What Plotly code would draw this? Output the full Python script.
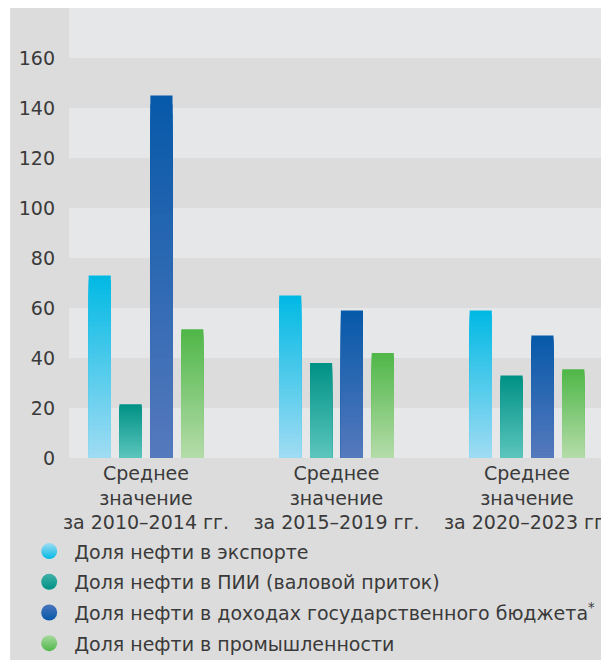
import plotly.graph_objects as go

# ---- data ----
categories = [
    "Среднее<br>значение<br>за 2010–2014 гг.",
    "Среднее<br>значение<br>за 2015–2019 гг.",
    "Среднее<br>значение<br>за 2020–2023 гг.",
]
series_names = [
    "Доля нефти в экспорте",
    "Доля нефти в ПИИ (валовой приток)",
    "Доля нефти в доходах государственного бюджета<sup>*</sup>",
    "Доля нефти в промышленности",
]
export_share = [73, 65, 59]
fdi_share = [21.5, 38, 33]
budget_share = [145, 59, 49]
industry_share = [51.5, 42, 35.5]
y_ticks = [0, 20, 40, 60, 80, 100, 120, 140, 160]

# ---- styles ----
top_colors = ["#00b9e4", "#009185", "#0659a9", "#4fb748"]
bottom_colors = ["#a0dcf3", "#5cc6bd", "#5679bd", "#b5dcaa"]
legend_light = ["#9edcf3", "#3fb0a8", "#4a74bd", "#a9d9a0"]
font_family = "'DejaVu Sans', sans-serif"
text_color = "#3a3a3a"
N_SEG = 40


def hex2rgb(h):
    h = h.lstrip("#")
    return tuple(int(h[i:i + 2], 16) for i in (0, 2, 4))


def lerp(c0, c1, t):
    a, b = hex2rgb(c0), hex2rgb(c1)
    return "rgb(%d,%d,%d)" % tuple(round(a[i] + (b[i] - a[i]) * t) for i in range(3))


fig = go.Figure()
all_series = [export_share, fdi_share, budget_share, industry_share]
for s, values in enumerate(all_series):
    # overlapping layers from full height down, so no seams appear
    for k in range(N_SEG - 1, -1, -1):
        t = (k + 0.5) / N_SEG
        fig.add_trace(go.Bar(
            x=categories,
            y=[v * (k + 1) / N_SEG for v in values],
            offsetgroup=str(s),
            marker=dict(color=lerp(bottom_colors[s], top_colors[s], t), line=dict(width=0)),
            showlegend=False,
            hoverinfo="skip",
        ))

# legend entries
for s, name in enumerate(series_names):
    fig.add_trace(go.Scatter(
        x=[None], y=[None], mode="markers", name=name,
        legendgroup=str(s),
        marker=dict(symbol="circle", size=16, color=legend_light[s],
                    gradient=dict(type="vertical", color=top_colors[s]),
                    line=dict(width=0)),
    ))

# alternating background bands
shapes = []
for i, yv in enumerate(y_ticks):
    if i % 2 == 0:
        shapes.append(dict(type="rect", xref="x domain", yref="y", x0=0, x1=1,
                           y0=yv, y1=yv + 20, fillcolor="#e6e7e9",
                           line=dict(width=0), layer="below"))
# white page edges outside the grey panel
shapes.append(dict(type="rect", xref="paper", yref="paper", x0=-0.2, x1=-0.109,
                   y0=-0.5, y1=1.05, fillcolor="white", line=dict(width=0), layer="below"))
shapes.append(dict(type="rect", xref="paper", yref="paper", x0=-0.2, x1=1.1,
                   y0=-0.5, y1=-0.449, fillcolor="white", line=dict(width=0), layer="below"))

fig.update_layout(
    width=601, height=655,
    margin=dict(l=61, r=0, t=0, b=205, autoexpand=False),
    paper_bgcolor="#dcdcdc",
    plot_bgcolor="#dcdcdc",
    barmode="group",
    bargap=0.352,
    bargroupgap=0.283,
    shapes=shapes,
    font=dict(family=font_family, color=text_color),
    showlegend=True,
    legend=dict(
        x=-0.083, xanchor="left", y=-0.165, yanchor="top",
        orientation="v", traceorder="grouped", tracegroupgap=3,
        font=dict(size=19, family=font_family, color=text_color),
        bgcolor="rgba(0,0,0,0)", itemwidth=40,
    ),
)
fig.update_xaxes(
    type="category", range=[-0.4042, 2.4304],
    showgrid=False, zeroline=False, showline=False, ticks="",
    ticklabelstandoff=2,
    tickfont=dict(size=19, family=font_family, color=text_color),
)
fig.update_yaxes(
    range=[0, 180], tickvals=y_ticks,
    showgrid=False, zeroline=False, showline=False, ticks="",
    ticklabelstandoff=13,
    tickfont=dict(size=19, family=font_family, color=text_color),
)

fig.write_html("out.html")
